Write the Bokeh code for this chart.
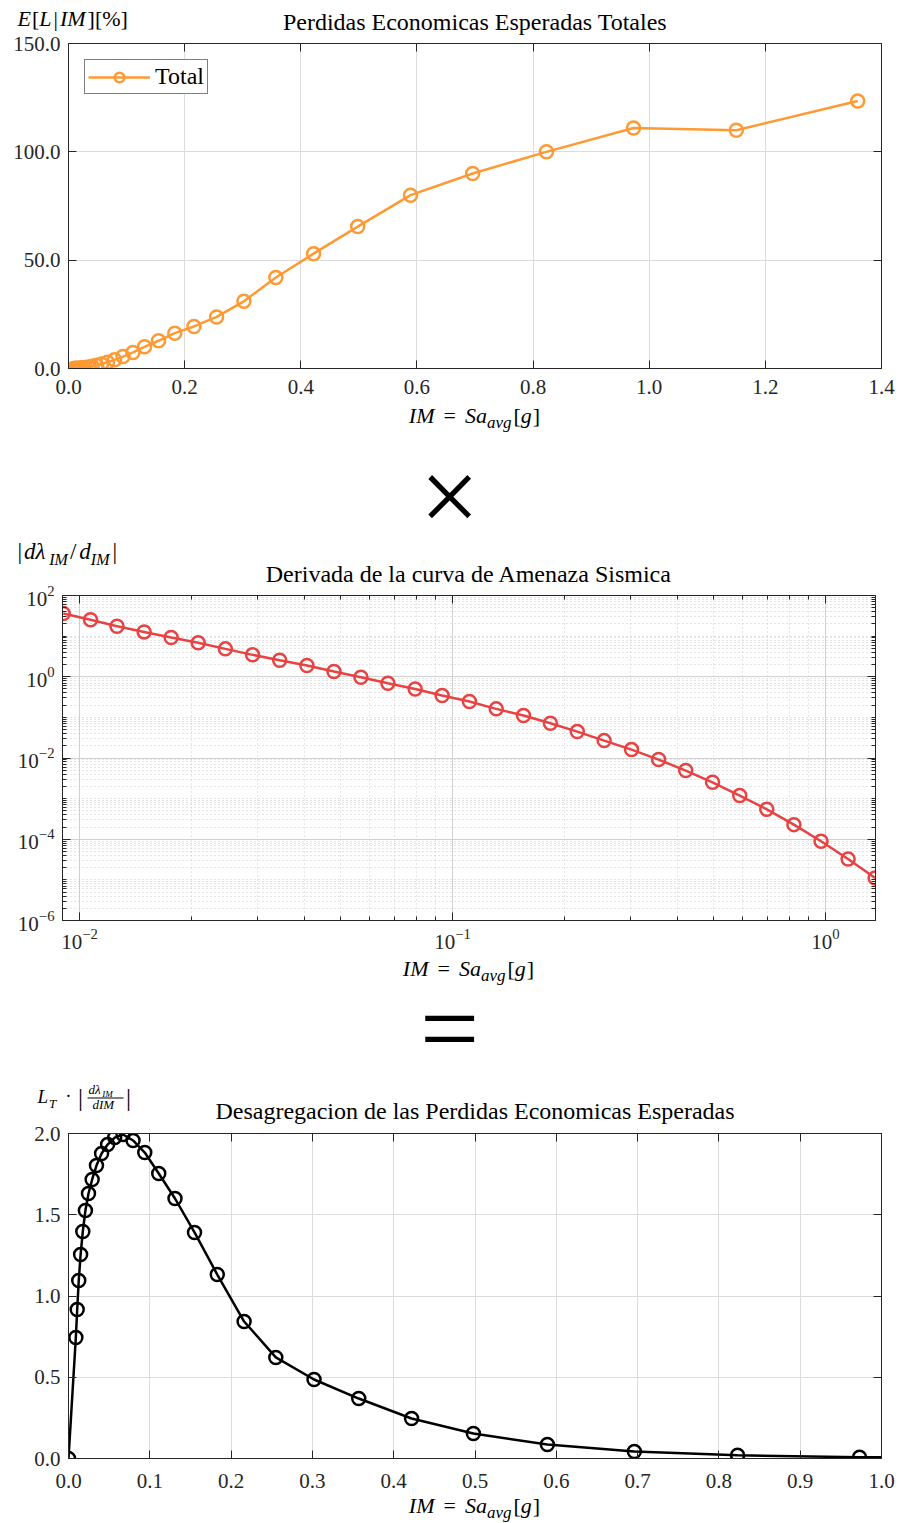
from bokeh.plotting import figure
from bokeh.layouts import column
from bokeh.models import (Range1d, FixedTicker, LinearAxis, LogAxis, NumeralTickFormatter,
                          CustomJSTickFormatter, Label)
from bokeh.embed import file_html
from bokeh.resources import INLINE

# ---------------- data ----------------
im = [0.00904, 0.0107, 0.0126, 0.0149, 0.0176, 0.0208, 0.0246, 0.0291, 0.0344, 0.0407,
      0.0481, 0.0568, 0.0671, 0.0794, 0.0938, 0.111, 0.131, 0.155, 0.183, 0.216,
      0.255, 0.302, 0.357, 0.422, 0.498, 0.589, 0.696, 0.823, 0.973, 1.150, 1.359]
loss_total = [0.02, 0.036, 0.063, 0.10, 0.15, 0.22, 0.34, 0.50, 0.71, 1.0,
              1.45, 2.05, 2.9, 4.0, 5.5, 7.4, 10.0, 12.8, 16.3, 19.4,
              23.8, 31.0, 42.0, 53.0, 65.5, 80.0, 90.0, 100.0, 111.0, 110.0, 123.5]
dlambda = [36.0, 25.2, 17.5, 12.7, 9.24, 6.84, 4.86, 3.46, 2.55, 1.89,
           1.34, 0.97, 0.69, 0.50, 0.344, 0.245, 0.162, 0.111, 0.0716, 0.0447,
           0.0268, 0.0161, 0.00914, 0.0049, 0.00252, 0.00119, 0.000546, 0.000229,
           0.0000891, 0.0000327, 0.0000111]
im_disagg = [0.0, 0.00904, 0.0107, 0.0126, 0.0149, 0.0176, 0.0208, 0.0246, 0.0291, 0.0344,
             0.0407, 0.0481, 0.0568, 0.0671, 0.0794, 0.0938, 0.111, 0.131, 0.155, 0.183,
             0.216, 0.255, 0.302, 0.357, 0.422, 0.498, 0.589, 0.696, 0.823, 0.973, 1.150, 1.359]
loss_disagg = [0.0, 0.745, 0.917, 1.095, 1.255, 1.397, 1.526, 1.631, 1.717, 1.803,
               1.877, 1.932, 1.975, 1.994, 1.957, 1.883, 1.754, 1.600, 1.391, 1.132,
               0.843, 0.622, 0.486, 0.369, 0.246, 0.154, 0.086, 0.043, 0.020, 0.008, 0.003, 0.001]

x1_ticks = [0.0, 0.2, 0.4, 0.6, 0.8, 1.0, 1.2, 1.4]
y1_ticks = [0.0, 50.0, 100.0, 150.0]
x2_ticks = [0.01, 0.1, 1.0]
y2_ticks = [1e-6, 1e-4, 1e-2, 1.0, 1e2]
x3_ticks = [0.0, 0.1, 0.2, 0.3, 0.4, 0.5, 0.6, 0.7, 0.8, 0.9, 1.0]
y3_ticks = [0.0, 0.5, 1.0, 1.5, 2.0]

title1 = "Perdidas Economicas Esperadas Totales"
title2 = "Derivada de la curva de Amenaza Sismica"
title3 = "Desagregacion de las Perdidas Economicas Esperadas"

# ---------------- style ----------------
FONT = "Liberation Serif"
W = 900
ORANGE = "#FF9933"
RED = "#E84343"
BLACK = "#000000"
AX = "#262626"
GRID = "#DCDCDC"
MINOR_GRID = "#C8C8C8"
TXT = "#000000"
SHIFT = 0.38   # baseline correction (em) for svg text

WID = {'[': 0.333, ']': 0.333, '|': 0.2, '%': 0.833, '=': 0.564, '/': 0.278,
       '·': 0.25, 'E': 0.611, 'L': 0.556, 'I': 0.333, 'M': 0.833, 'S': 0.5, 'a': 0.5,
       'v': 0.444, 'g': 0.5, 'd': 0.5, 'T': 0.556, 'λ': 0.55}


def tw(t, sz):
    return sum(WID.get(c, 0.5) for c in t) * sz


def sep(top, bottom, overlap=0):
    s = figure(width=W, height=bottom - top, x_range=Range1d(0, W),
               y_range=Range1d(bottom, top), x_axis_location=None, y_axis_location=None,
               toolbar_location=None, output_backend="svg", title=None, frame_align=False,
               min_border_left=0, min_border_right=0, min_border_top=0, min_border_bottom=0,
               margin=(0, 0, -overlap, 0))
    s.grid.visible = False
    s.outline_line_color = None
    s.border_fill_color = None
    s.background_fill_color = None
    return s


def lab(s, x, y, t, sz, italic=False, align="left", adjust=True):
    yy = y - SHIFT * sz if adjust else y
    s.add_layout(Label(x=x, y=yy, text=t, text_font=FONT, text_font_size=f"{sz}px",
                       text_font_style="italic" if italic else "normal",
                       text_baseline="alphabetic", text_align=align, text_color=TXT))


def rich(s, x, y, pieces, align="left"):
    total = sum(tw(t, sz) + g for (t, sz, it, dy, g) in pieces)
    if align == "center":
        x -= total / 2
    for (t, sz, it, dy, g) in pieces:
        lab(s, x, y + dy, t, sz, it)
        x += tw(t, sz) + g


def xlabel(s, cx, y):
    rich(s, cx, y, [("IM", 22, True, 0, 9), ("=", 22, False, 0, 9), ("Sa", 22, True, 0, 0),
                    ("avg", 17, True, 5, 2), ("[", 22, False, 0, 0), ("g", 22, True, 0, 1),
                    ("]", 22, False, 0, 0)], align="center")


def style_axis(ax):
    ax.axis_line_color = AX
    ax.axis_line_width = 1
    ax.major_tick_line_color = AX
    ax.minor_tick_line_color = AX
    ax.major_tick_in = 8
    ax.major_tick_out = 0
    ax.minor_tick_in = 4
    ax.minor_tick_out = 0
    ax.major_label_text_font = FONT
    ax.major_label_text_font_size = "21px"
    ax.major_label_text_color = AX
    ax.major_label_standoff = 8


def mirror(p, xt, yt, log=False):
    A = LogAxis if log else LinearAxis
    for loc, t in (("above", xt), ("right", yt)):
        ax = A(ticker=t, formatter=CustomJSTickFormatter(code="return ''"))
        style_axis(ax)
        ax.major_label_text_font_size = "1px"
        ax.major_label_standoff = 0
        p.add_layout(ax, loc)


def base_fig(top, bottom, frame_top, frame_bottom, xr, yr, left, right, overlap,
             log=False, xstand=11):
    p = figure(width=W, height=bottom - top, x_range=xr, y_range=yr,
               x_axis_type="log" if log else "linear", y_axis_type="log" if log else "linear",
               toolbar_location=None, output_backend="svg", title=None, frame_align=False,
               min_border_left=left, min_border_right=right,
               min_border_top=frame_top - top, min_border_bottom=bottom - frame_bottom,
               margin=(0, 0, -overlap, 0))
    p.outline_line_color = AX
    p.background_fill_color = "white"
    p.border_fill_color = None
    p.grid.grid_line_color = GRID
    p.grid.grid_line_width = 1
    for ax in p.axis:
        style_axis(ax)
    p.xaxis.major_label_standoff = xstand
    return p


# ---------------- header (page y 0..45) ----------------
h1 = sep(0, 45, overlap=25)
rich(h1, 17, 26, [("E", 22, True, 0, 1), ("[", 22, False, 0, 0), ("L", 22, True, 0, 2),
                  ("|", 22, False, 0, 2), ("IM", 22, True, 0, 2), ("]", 22, False, 0, 0),
                  ("[", 22, False, 0, 0), ("%", 22, False, 0, 0), ("]", 22, False, 0, 0)])
lab(h1, 474.5, 31, title1, 24, align="center")

# ---------------- plot 1 (page y 20..415, frame 43..368) ----------------
p1 = base_fig(20, 415, 43, 368, Range1d(0, 1.4), Range1d(0, 150), 68, 19, 15)
xt1 = FixedTicker(ticks=x1_ticks, minor_ticks=[])
yt1 = FixedTicker(ticks=y1_ticks, minor_ticks=[])
p1.xaxis.ticker = xt1
p1.yaxis.ticker = yt1
p1.xaxis.formatter = NumeralTickFormatter(format="0.0")
p1.yaxis.formatter = NumeralTickFormatter(format="0.0")
p1.line(im, loss_total, line_color=ORANGE, line_width=2.5, legend_label="Total")
p1.scatter(im, loss_total, marker="circle", size=13, fill_color=None, line_color=ORANGE,
           line_width=2.5, legend_label="Total")
mirror(p1, xt1, yt1)
lg = p1.legend[0]
lg.location = "top_left"
lg.margin = 16
lg.padding = 3
lg.spacing = 0
lg.label_text_font = FONT
lg.label_text_font_size = "24px"
lg.label_text_color = TXT
lg.glyph_width = 62
lg.glyph_height = 24
lg.label_standoff = 5
lg.border_line_color = "black"
lg.border_line_width = 1
lg.background_fill_alpha = 1.0

# ---------------- separator 1 (page y 400..600) ----------------
s1 = sep(400, 600, overlap=20)
xlabel(s1, 474, 423)
lab(s1, 449, 496, "×", 105, align="center", adjust=False)
rich(s1, 17, 560, [("|", 23, False, 0, 2), ("d", 23, True, 0, 0), ("λ", 23, True, 0, 1),
                   ("IM", 16, True, 5, 2), ("/", 23, False, 0, 3), ("d", 23, True, 0, 0),
                   ("IM", 16, True, 5, 3), ("|", 23, False, 0, 0)])
lab(s1, 468.5, 583, title2, 24, align="center")

# ---------------- plot 2 (page y 580..965, frame 595..920) ----------------
p2 = base_fig(580, 965, 595, 920, Range1d(0.0090, 1.362), Range1d(1e-6, 1e2), 62, 25, 15,
              log=True, xstand=8)
x2_minor = [k * 10.0 ** e for e in (-3, -2, -1, 0) for k in range(2, 10)]
y2_minor = [k * 10.0 ** e for e in range(-6, 2) for k in range(1, 10)
            if not (k == 1 and e % 2 == 0)]
xt2 = FixedTicker(ticks=x2_ticks, minor_ticks=x2_minor)
yt2 = FixedTicker(ticks=y2_ticks, minor_ticks=y2_minor)
p2.xaxis.ticker = xt2
p2.yaxis.ticker = yt2
p2.grid.minor_grid_line_color = MINOR_GRID
p2.grid.minor_grid_line_dash = "1 3"
p2.grid.minor_grid_line_width = 1
p2.grid.grid_line_color = "#D0D0D0"
p2.line(im, dlambda, line_color=RED, line_width=2.5)
p2.scatter(im, dlambda, marker="circle", size=13, fill_color=None, line_color=RED, line_width=2.5)
mirror(p2, xt2, yt2, log=True)

# ---------------- separator 2 (page y 950..1130) ----------------
s2 = sep(950, 1130, overlap=15)
xlabel(s2, 468, 976)
lab(s2, 449, 1028, "=", 105, align="center", adjust=False)
# L_T · |dλ_IM / dIM|
rich(s2, 37, 1103, [("L", 19, True, 0, 1), ("T", 13, True, 5, 0)])
lab(s2, 68, 1102, "·", 19, align="center")
lab(s2, 80, 1106, "|", 25, align="center")
rich(s2, 88, 1094, [("dλ", 13, True, 0, 0), ("IM", 9, True, 3, 0)])
s2.segment(x0=[87], y0=[1097.5], x1=[123], y1=[1097.5], line_color=TXT, line_width=1)
rich(s2, 92, 1109, [("dIM", 13, True, 0, 0)])
lab(s2, 128, 1106, "|", 25, align="center")
lab(s2, 474.5, 1120, title3, 24, align="center")

# ---------------- plot 3 (page y 1115..1500, frame 1133..1458) ----------------
p3 = base_fig(1115, 1500, 1133, 1458, Range1d(0, 1.0), Range1d(0, 2.0), 68, 19, 10, xstand=15)
xt3 = FixedTicker(ticks=x3_ticks, minor_ticks=[])
yt3 = FixedTicker(ticks=y3_ticks, minor_ticks=[])
p3.xaxis.ticker = xt3
p3.yaxis.ticker = yt3
p3.xaxis.formatter = NumeralTickFormatter(format="0.0")
p3.yaxis.formatter = NumeralTickFormatter(format="0.0")
p3.line(im_disagg, loss_disagg, line_color=BLACK, line_width=2.5)
p3.scatter(im_disagg, loss_disagg, marker="circle", size=13, fill_color=None,
           line_color=BLACK, line_width=2.5)
mirror(p3, xt3, yt3)

# ---------------- separator 3 (page y 1490..1523) ----------------
s3 = sep(1490, 1523)
xlabel(s3, 474, 1513)

layout = column(h1, p1, s1, p2, s2, p3, s3, spacing=0)
open("out.html", "w").write(file_html(layout, INLINE))
